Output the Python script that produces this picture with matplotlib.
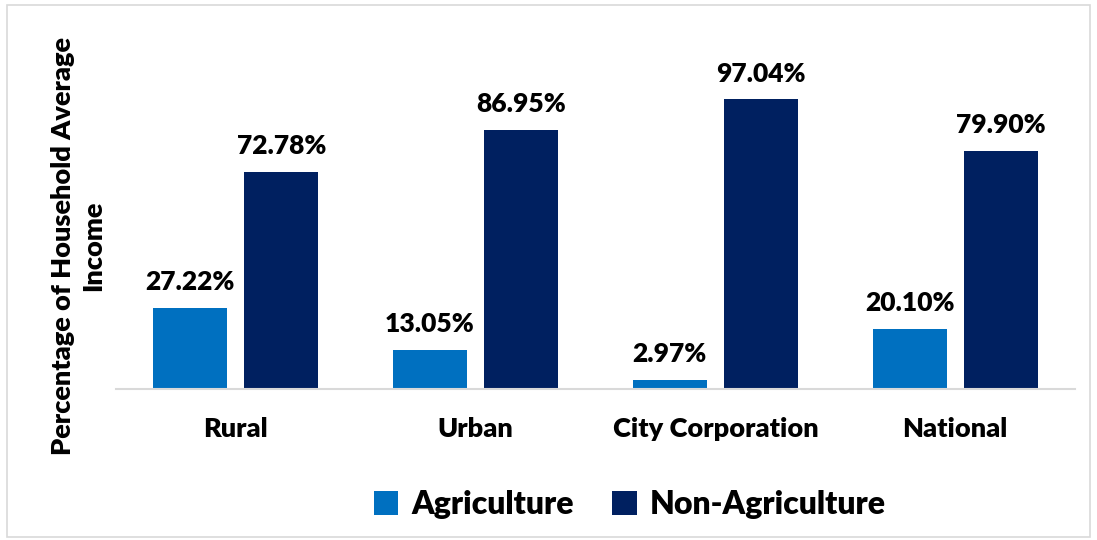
import matplotlib.pyplot as plt
import numpy as np
from matplotlib.patches import Rectangle

plt.rcParams['font.family'] = ['Lato', 'DejaVu Sans']
plt.rcParams['font.weight'] = 'heavy'

regions = ['Rural', 'Urban', 'City Corporation', 'National']
agriculture = [27.22, 13.05, 2.97, 20.10]
non_agriculture = [72.78, 86.95, 97.04, 79.90]

agri_color = '#0070C0'
non_agri_color = '#002060'

fig = plt.figure(figsize=(10.97, 5.40), dpi=100)
ax = fig.add_axes([0.1057, 0.2796, 0.8743, 0.663])

x = np.arange(len(regions))
width = 0.308
offset = 0.19

bars1 = ax.bar(x - offset, agriculture, width, color=agri_color, label='Agriculture')
bars2 = ax.bar(x + offset, non_agriculture, width, color=non_agri_color, label='Non-Agriculture')

for bars in (bars1, bars2):
    for b in bars:
        ax.annotate(f'{b.get_height():.2f}%', (b.get_x() + b.get_width() / 2, b.get_height()),
                    xytext=(0, 10), textcoords='offset points', ha='center', va='bottom',
                    fontsize=19, fontweight='heavy', color='black')

ax.set_xlim(-0.5, 3.5)
ax.set_ylim(0, 120)
ax.set_xticks(x)
ax.set_xticklabels(regions, fontsize=19.5, fontweight='heavy')
ax.tick_params(axis='x', length=0, pad=20)
ax.set_yticks([])
for side in ('top', 'right', 'left'):
    ax.spines[side].set_visible(False)
ax.spines['bottom'].set_color('#D9D9D9')
ax.spines['bottom'].set_linewidth(1.5)

fig.text(0.071, 0.545, 'Percentage of Household Average\nIncome', rotation=90,
         ha='center', va='center', fontsize=19.5, fontweight='heavy', linespacing=1.3)

fig.legend(loc='center', bbox_to_anchor=(0.574, 0.066), ncol=2, frameon=False,
           handlelength=0.78, handleheight=0.78, handletextpad=0.4,
           columnspacing=1.2, prop={'size': 23, 'weight': 'heavy'})

fig.patches.append(Rectangle((0.006, 0.006), 0.988, 0.985, transform=fig.transFigure,
                             fill=False, edgecolor='#D9D9D9', linewidth=1.2))

fig.savefig('out.png', dpi=100)
